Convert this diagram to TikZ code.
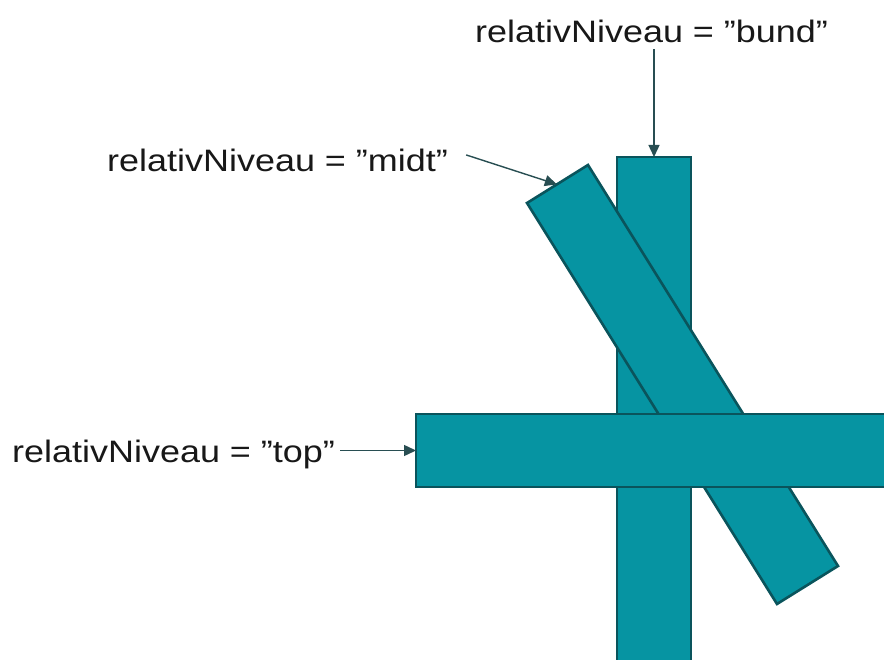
\documentclass[tikz,border=0pt]{standalone}
\usepackage{fontspec}
\setmainfont{Liberation Sans}
\usetikzlibrary{arrows.meta,calc}
\definecolor{barfill}{RGB}{6,148,162}
\definecolor{barline}{RGB}{10,84,92}
\definecolor{arrline}{RGB}{40,78,82}
\definecolor{txt}{RGB}{24,24,24}
\newcommand{\lbltext}[1]{\scalebox{1.16}[1]{#1}}
\begin{document}
\begin{tikzpicture}[x=1pt,y=-1pt,
  bar/.style={fill=barfill,draw=barline,line width=2.6pt,line join=miter,inner sep=0pt,outer sep=0pt},
  lbl/.style={inner sep=0pt,anchor=base west,text=txt,font=\fontsize{31}{36}\selectfont},
  arr/.style={draw=arrline,line width=1.4pt,-{Triangle[length=12pt,width=11pt]}}]
\useasboundingbox (0,0) rectangle (884,660);
\begin{scope}
  \clip (0,0) rectangle (884,660);
  % bottom layer: vertical bar
  \node[bar,minimum width=74pt,minimum height=543pt] (vbar) at (654,428.5) {};
  % middle layer: diagonal bar
  \coordinate (d1) at (527,203);
  \coordinate (d2) at (588,165);
  \coordinate (d3) at (838,566);
  \coordinate (d4) at (777,604);
  \path[bar] (d1) -- (d2) -- (d3) -- (d4) -- cycle;
  \coordinate (dtop) at ($(d1)!0.49!(d2)$);
  % top layer: horizontal bar
  \node[bar,minimum width=534pt,minimum height=73pt] (hbar) at (683,450.5) {};
\end{scope}
% labels
\node[lbl] (bund) at (475,43) {\lbltext{relativNiveau = ”bund”}};
\node[lbl] (midt) at (107,172) {\lbltext{relativNiveau = ”midt”}};
\node[lbl] (top) at (12,462) {\lbltext{relativNiveau = ”top”}};
% arrows
\draw[arr] ($(bund.south -| vbar.north)+(0,6)$) -- (vbar.north);
\draw[arr] ($(midt.east)+(18,-6)$) -- (dtop);
\draw[arr] ($(top.east |- hbar.west)+(5,0)$) -- (hbar.west);
\end{tikzpicture}
\end{document}
